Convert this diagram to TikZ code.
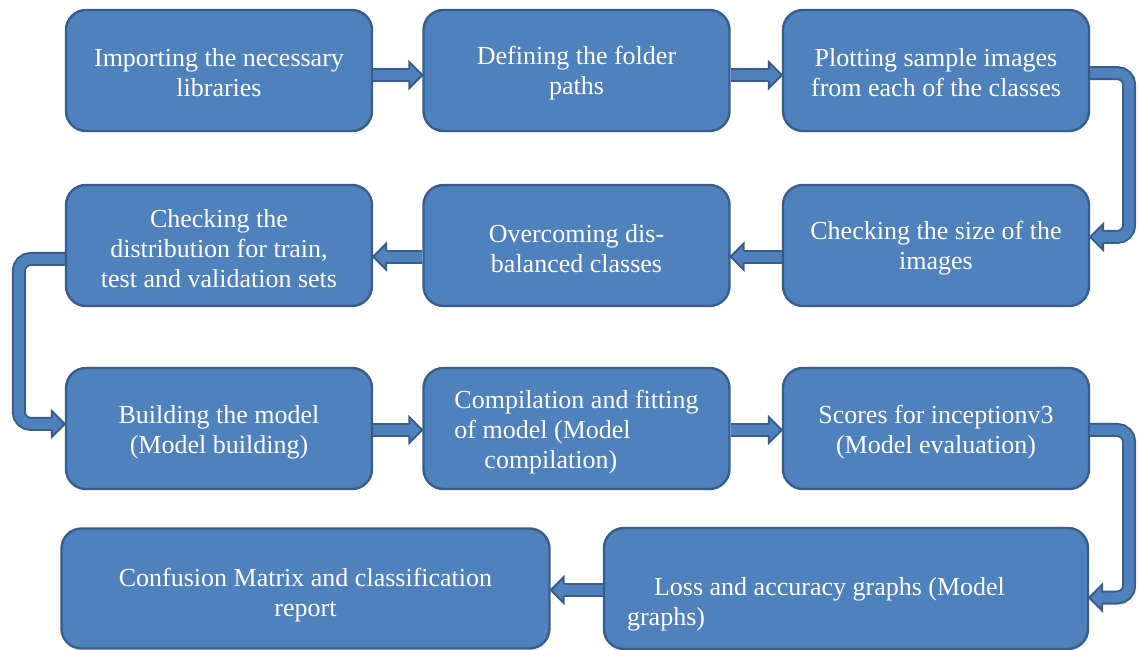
\documentclass[tikz,border=0pt]{standalone}
\usepackage{fontspec}
\setmainfont{Liberation Serif}
\pgfdeclarelayer{background}
\pgfsetlayers{background,main}
\definecolor{fillc}{HTML}{4F81BD}
\definecolor{bordc}{HTML}{385D8A}
\tikzset{
  box/.style={draw=bordc, fill=fillc, line width=1.8pt, rounded corners=15pt,
    minimum width=229.5pt, minimum height=90.75pt, inner sep=0pt},
  boxtext/.style={text=white, inner sep=0pt, align=center,
    font=\fontsize{19.5pt}{22.5pt}\selectfont},
  shaft/.style={draw=bordc, line width=1.5pt, double=fillc, double distance=7.5pt,
    shorten >=9pt},
  bent/.style={shaft, rounded corners=9pt},
}
% arrow head of a block arrow: tip at #1, pointing in direction #2 (degrees)
\newcommand{\blockhead}[2]{%
  \begin{scope}[shift={#1}, rotate=#2]
    \fill[fillc] (0,0) -- (-13,13) -- (-13,-13) -- cycle;
    \draw[bordc, line width=1.5pt, line join=miter]
      (-13,6) -- (-13,13) -- (0,0) -- (-13,-13) -- (-13,-6);
  \end{scope}}
\begin{document}
\begin{tikzpicture}[x=0.75pt, y=-0.75pt]
\useasboundingbox (0,0) rectangle (1140,650);

% boxes
\node[box] (b1) at (219,70.5) {};
\node[box] (b2) at (576.5,70.5) {};
\node[box] (b3) at (936,70.5) {};
\node[box] (b4) at (219,245.5) {};
\node[box] (b5) at (576.5,245.5) {};
\node[box] (b6) at (936,245.5) {};
\node[box] (b7) at (219,428.5) {};
\node[box] (b8) at (576.5,428.5) {};
\node[box] (b9) at (936,428.5) {};
\node[box, minimum width=366pt, minimum height=90pt] (b10) at (305.5,588.5) {};
\node[box, minimum width=363pt] (b11) at (846,588.5) {};

% box texts
\node[boxtext] (t1) at ([yshift=-1.6pt]b1.center) {Importing the necessary\\libraries};
\node[boxtext] (t2) at ([yshift=-1.6pt]b2.center) {Defining the folder\\paths};
\node[boxtext] (t3) at ([yshift=-1.6pt]b3.center) {Plotting sample images\\from each of the classes};
\node[boxtext] (t4) at ([yshift=-2.3pt]b4.center) {Checking the\\distribution for train,\\test and validation sets};
\node[boxtext] (t5) at ([yshift=-2.3pt]b5.center) {Overcoming dis-\\balanced classes};
\node[boxtext] (t6) at ([yshift=-2.3pt]b6.center) {Checking the size of the\\images};
\node[boxtext] (t7) at ([yshift=-3pt]b7.center) {Building the model\\(Model building)};
\node[boxtext, align=left] (t8) at ([yshift=-2.6pt]b8.center)
  {Compilation and fitting\\of model (Model\\\hspace*{22.5pt}compilation)};
\node[boxtext] (t9) at ([yshift=-3pt]b9.center) {Scores for inceptionv3\\(Model evaluation)};
\node[boxtext] (t10) at ([yshift=-5pt]b10.center) {Confusion Matrix and classification\\report};
\node[boxtext, align=left, anchor=west] (t11) at ([xshift=18pt, yshift=-12pt]b11.west)
  {\hspace*{20.25pt}Loss and accuracy graphs (Model\\graphs)};

\begin{pgfonlayer}{background}
  % straight block arrows
  \draw[shaft] ([yshift=-3.4pt]b1.east) -- ([yshift=-3.4pt]b2.west);
  \blockhead{([yshift=-3.4pt]b2.west)}{0}
  \draw[shaft] ([yshift=-3.4pt]b2.east) -- ([yshift=-3.4pt]b3.west);
  \blockhead{([yshift=-3.4pt]b3.west)}{0}
  \draw[shaft] ([yshift=-8.4pt]b6.west) -- ([yshift=-8.4pt]b5.east);
  \blockhead{([yshift=-8.4pt]b5.east)}{180}
  \draw[shaft] ([yshift=-8.4pt]b5.west) -- ([yshift=-8.4pt]b4.east);
  \blockhead{([yshift=-8.4pt]b4.east)}{180}
  \draw[shaft] ([yshift=-1.1pt]b7.east) -- ([yshift=-1.1pt]b8.west);
  \blockhead{([yshift=-1.1pt]b8.west)}{0}
  \draw[shaft] ([yshift=-1.1pt]b8.east) -- ([yshift=-1.1pt]b9.west);
  \blockhead{([yshift=-1.1pt]b9.west)}{0}
  \draw[shaft] ([yshift=-1.1pt]b11.west) -- ([yshift=-1.1pt]b10.east);
  \blockhead{([yshift=-1.1pt]b10.east)}{180}
  % bent block arrows between rows
  \draw[bent] ([yshift=-1.9pt]b3.east) -- ++(39,0) |- ([yshift=6.4pt]b6.east);
  \blockhead{([yshift=6.4pt]b6.east)}{180}
  \draw[bent] ([yshift=-10.1pt]b4.west) -- ++(-46,0) |- ([yshift=3.4pt]b7.west);
  \blockhead{([yshift=3.4pt]b7.west)}{0}
  \draw[bent] ([yshift=-1.1pt]b9.east) -- ++(39,0) |- ([yshift=-6.8pt]b11.east);
  \blockhead{([yshift=-6.8pt]b11.east)}{180}
\end{pgfonlayer}
\end{tikzpicture}
\end{document}
